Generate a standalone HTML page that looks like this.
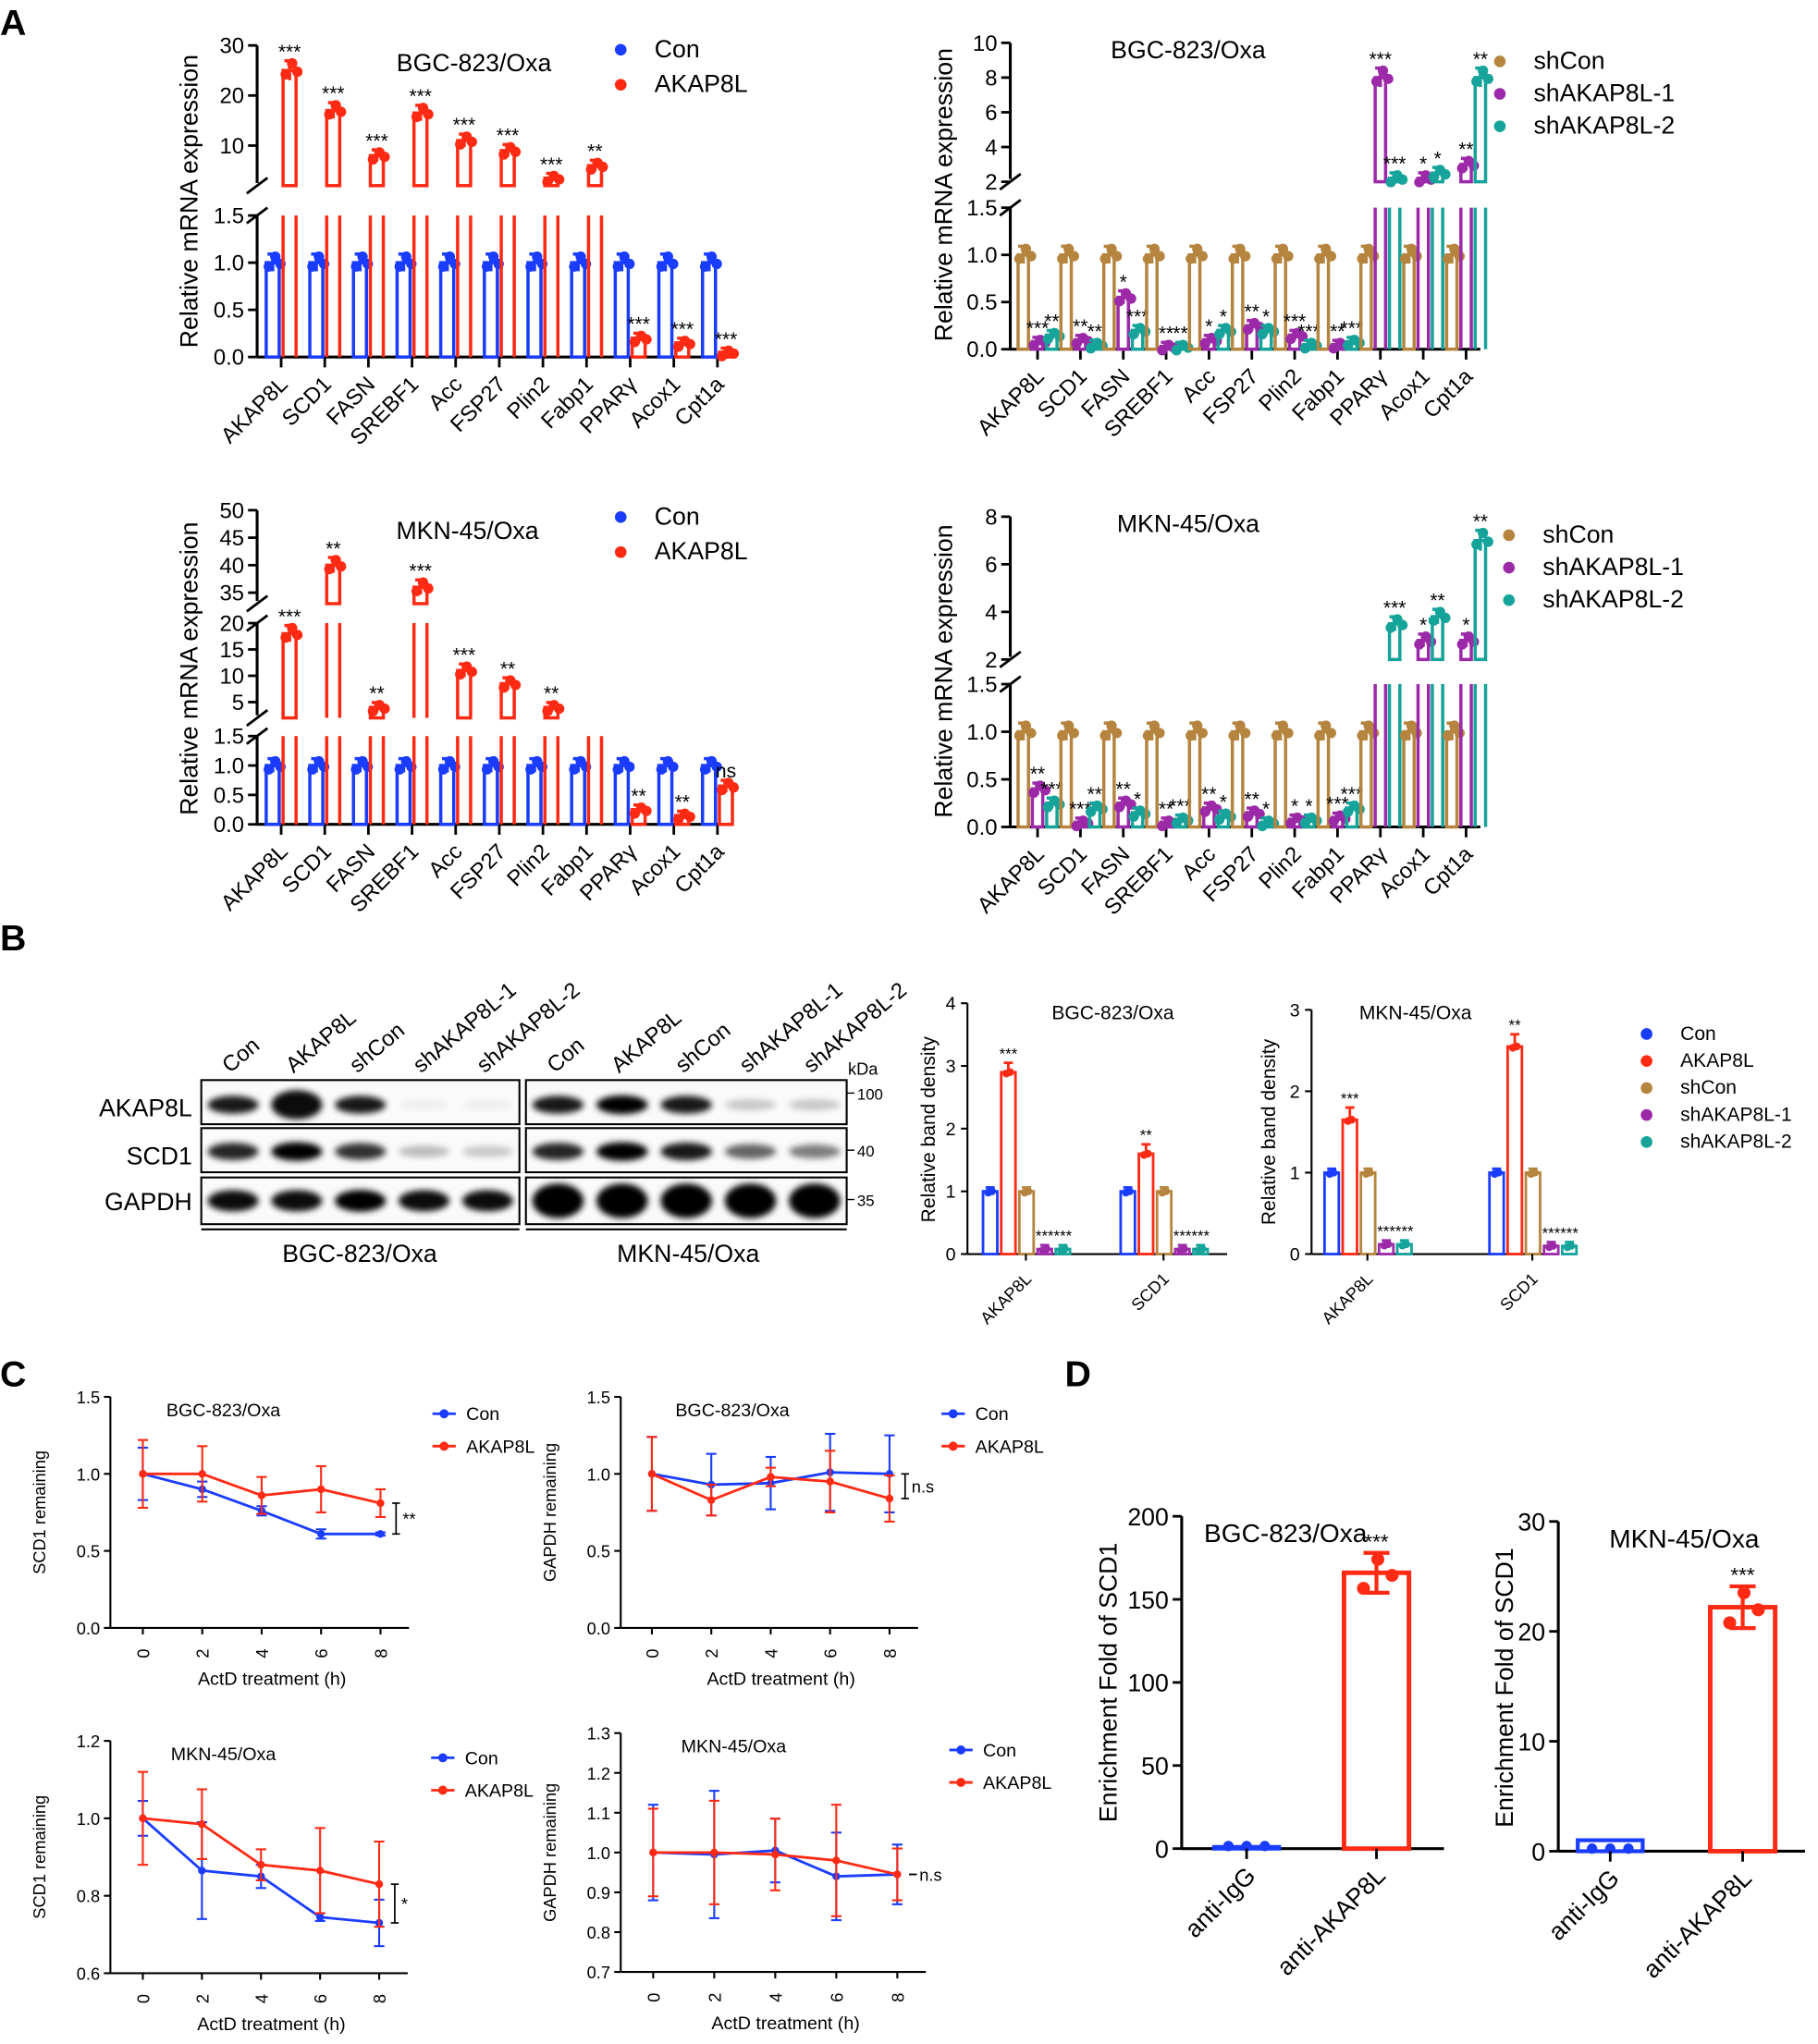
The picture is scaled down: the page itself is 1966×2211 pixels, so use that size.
<!DOCTYPE html>
<html><head><meta charset="utf-8"><style>
html,body{margin:0;padding:0;background:#fff;}
svg{display:block;font-family:"Liberation Sans",Arial,sans-serif;}
</style></head><body>
<svg id="S" width="1966" height="2211" viewBox="0 0 1400 1574.5" preserveAspectRatio="none" xmlns="http://www.w3.org/2000/svg">
<defs><filter id="bl" x="-20%" y="-50%" width="140%" height="200%"><feGaussianBlur stdDeviation="2.5"/></filter></defs>
</svg>
<script>
var s='';
var BL='#1a3cff',RD='#ff2a14',BR='#b5853f',PU='#9c2aa8',TE='#15a39a';
function T(x,y,t,o){o=o||{};s+='<text x="'+x+'" y="'+y+'" font-size="'+(o.fs||16)+'" text-anchor="'+(o.a||'middle')+'"'+(o.rot!=null?' transform="rotate('+o.rot+' '+x+' '+y+')"':'')+' fill="'+(o.c||'#000')+'"'+(o.fw?' font-weight="bold"':'')+(o.it?' font-style="italic"':'')+'>'+t+'</text>';}
function L(x1,y1,x2,y2,c,w){s+='<line x1="'+x1+'" y1="'+y1+'" x2="'+x2+'" y2="'+y2+'" stroke="'+(c||'#000')+'" stroke-width="'+(w||2)+'"/>';}
function C(x,y,r,c){s+='<circle cx="'+x+'" cy="'+y+'" r="'+r+'" fill="'+c+'"/>';}
function R(x,y,w,h,c,sw,f){s+='<rect x="'+x+'" y="'+y+'" width="'+w+'" height="'+h+'" fill="'+(f||'none')+'" stroke="'+c+'" stroke-width="'+(sw||2)+'"/>';}
var genes=['AKAP8L','SCD1','FASN','SREBF1','Acc','FSP27','Plin2','Fabp1','PPARγ','Acox1','Cpt1a'];
function yOf(sg,v){return sg.ylo+(v-sg.lo)/(sg.hi-sg.lo)*(sg.yhi-sg.ylo);}
function broken(o){
  var x0=o.x0;
  o.segs.forEach(function(sg,k){
    L(x0,sg.ylo+(k==0?0:-2),x0,sg.yhi,'#000',2.2);
    sg.ticks.forEach(function(t){var y=yOf(sg,t[0]);L(x0-7,y,x0,y,'#000',2);T(x0-10,y+6,t[1],{fs:17,a:'end'});});
    if(k>0){L(x0-8,sg.ylo+6,x0+8,sg.ylo-6,'#000',2);}
    if(k<o.segs.length-1){L(x0-8,sg.yhi+6,x0+8,sg.yhi-6,'#000',2);}
  });
  var b=o.segs[0];L(x0,b.ylo,o.x1,b.ylo,'#000',2.2);
  genes.forEach(function(g,i){
    var cx=o.gx0+i*o.gs;
    var gc=cx+(o.series.length-1)*o.bs/2;
    L(gc,b.ylo,gc,b.ylo+8,'#000',2);
    T(gc+6,b.ylo+22,g,{fs:17,a:'end',rot:-45});
    o.series.forEach(function(se,j){
      var v=se.v[i],bx=cx+j*o.bs-o.bw/2;
      var topSeg=null;
      o.segs.forEach(function(sg){
        if(v>sg.lo){var vt=Math.min(v,sg.hi);var yt=yOf(sg,vt);
          if(v>sg.hi){L(bx,sg.ylo,bx,sg.yhi,se.c,2.5);L(bx+o.bw,sg.ylo,bx+o.bw,sg.yhi,se.c,2.5);}
          else{R(bx,yt,o.bw,sg.ylo-yt,se.c,2.5);topSeg=sg;}
        }
      });
      if(topSeg){var yt=yOf(topSeg,v);var e=(o.err||0.1)*(topSeg.ylo-topSeg.yhi)*(v/(topSeg.hi))*0.5+3;
        L(bx+o.bw/2,yt-e,bx+o.bw/2,yt+e,se.c,2.5);L(bx+o.bw/2-4,yt-e,bx+o.bw/2+4,yt-e,se.c,2.5);
        C(bx+o.bw/2-3,yt+3,4,se.c);C(bx+o.bw/2+2,yt-e+2,4,se.c);C(bx+o.bw/2+6,yt+1,4,se.c);
        if(se.st&&se.st[i])T(bx+o.bw/2,yt-e-2,se.st[i],{fs:15});}
    });
  });
}
var segA1=[{lo:0,hi:1.5,ylo:275,yhi:166,ticks:[[0,'0.0'],[0.5,'0.5'],[1,'1.0'],[1.5,'1.5']]},{lo:2,hi:30,ylo:143,yhi:35,ticks:[[10,'10'],[20,'20'],[30,'30']]}];
broken({x0:198,x1:562,segs:segA1,gx0:210,gs:33.6,bs:13,bw:10,series:[
 {c:BL,v:[1,1,1,1,1,1,1,1,1,1,1]},
 {c:RD,v:[25,17,8,16.5,11,9,3.5,6,0.2,0.15,0.05],st:['***','***','***','***','***','***','***','**','***','***','***']}]});
var segA2=[{lo:0,hi:1.5,ylo:269,yhi:160,ticks:[[0,'0.0'],[0.5,'0.5'],[1,'1.0'],[1.5,'1.5']]},{lo:2,hi:10,ylo:140,yhi:33,ticks:[[2,'2'],[4,'4'],[6,'6'],[8,'8'],[10,'10']]}];
broken({x0:778,x1:1140,segs:segA2,gx0:788,gs:33,bs:11,bw:8,series:[
 {c:BR,v:[1,1,1,1,1,1,1,1,1,1,1]},
 {c:PU,v:[0.08,0.1,0.55,0.03,0.1,0.25,0.15,0.05,8,2.2,3],st:['***','**','*','**','*','**','***','**','***','*','**']},
 {c:TE,v:[0.15,0.05,0.2,0.03,0.2,0.2,0.05,0.08,2.2,2.5,8],st:['**','**','***','**','*','*','***','***','***','*','**']}]});
var segA3=[{lo:0,hi:1.5,ylo:635,yhi:567,ticks:[[0,'0.0'],[0.5,'0.5'],[1,'1.0'],[1.5,'1.5']]},{lo:2,hi:20,ylo:553,yhi:480,ticks:[[5,'5'],[10,'10'],[15,'15'],[20,'20']]},{lo:33,hi:50,ylo:465,yhi:393,ticks:[[35,'35'],[40,'40'],[45,'45'],[50,'50']]}];
broken({x0:198,x1:562,segs:segA3,gx0:210,gs:33.6,bs:13,bw:10,series:[
 {c:BL,v:[1,1,1,1,1,1,1,1,1,1,1]},
 {c:RD,v:[18,40,4,36,11,8.5,4,1.62,0.25,0.15,0.65],st:['***','**','**','***','***','**','**','**','**','**','ns']}]});
var segA4=[{lo:0,hi:1.5,ylo:637,yhi:527,ticks:[[0,'0.0'],[0.5,'0.5'],[1,'1.0'],[1.5,'1.5']]},{lo:2,hi:8,ylo:508,yhi:398,ticks:[[2,'2'],[4,'4'],[6,'6'],[8,'8']]}];
broken({x0:778,x1:1140,segs:segA4,gx0:788,gs:33,bs:11,bw:8,series:[
 {c:BR,v:[1,1,1,1,1,1,1,1,1,1,1]},
 {c:PU,v:[0.4,0.05,0.25,0.05,0.2,0.15,0.08,0.1,1.7,2.8,2.8],st:['**','***','**','**','**','**','*','***','*','*','*']},
 {c:TE,v:[0.25,0.2,0.15,0.08,0.12,0.05,0.08,0.2,3.5,3.8,7],st:['***','**','*','***','*','*','*','***','***','**','**']}]});
T(365,55,'BGC-823/Oxa',{fs:19});T(915,45,'BGC-823/Oxa',{fs:19});T(360,415,'MKN-45/Oxa',{fs:19});T(915,410,'MKN-45/Oxa',{fs:19});
function leg(x,y,items,fs,dy){items.forEach(function(it,i){C(x,y+i*dy-fs*0.3,4.5,it[1]);T(x+26,y+i*dy,it[0],{fs:fs,a:'start'});});}
leg(478,44,[['Con',BL],['AKAP8L',RD]],19,27);leg(478,404,[['Con',BL],['AKAP8L',RD]],19,27);
leg(1155,53,[['shCon',BR],['shAKAP8L-1',PU],['shAKAP8L-2',TE]],19,25);leg(1162,418,[['shCon',BR],['shAKAP8L-1',PU],['shAKAP8L-2',TE]],19,25);
T(152,155,'Relative mRNA expression',{fs:19,rot:-90});T(733,150,'Relative mRNA expression',{fs:19,rot:-90});
T(152,515,'Relative mRNA expression',{fs:19,rot:-90});T(733,517,'Relative mRNA expression',{fs:19,rot:-90});
T(0,27,'A',{fs:28,a:'start',fw:1});T(0,732,'B',{fs:28,a:'start',fw:1});T(0,1068,'C',{fs:28,a:'start',fw:1});T(820,1068,'D',{fs:28,a:'start',fw:1});
var lanes=['Con','AKAP8L','shCon','shAKAP8L-1','shAKAP8L-2'];
[[155,400],[405,652]].forEach(function(p,k){
  var w=(p[1]-p[0])/5;
  lanes.forEach(function(l,i){T(p[0]+w*i+w*0.45,827,l,{fs:17,a:'start',rot:-40});});
  R(p[0],832,p[1]-p[0],34,'#000',1.5,'#fafafa');R(p[0],869,p[1]-p[0],34,'#000',1.5,'#fafafa');R(p[0],907,p[1]-p[0],36,'#000',1.5,'#fafafa');
  var I=k==0?[[0.9,0.95,0.9,0.05,0.05],[0.85,1,0.8,0.25,0.2],[0.95,0.95,1,0.95,0.95]]:[[0.9,1,0.9,0.2,0.2],[0.85,1,0.9,0.6,0.5],[1,1,1,1,1]];
  var ys=[851,887,925],hs=[6,6,7];
  I.forEach(function(r,ri){r.forEach(function(a,i){var cx=p[0]+w*i+w/2;var hh=hs[ri]*(0.6+a*(k==1&&ri==2?1.3:0.6))*(ri==0&&i==1&&k==0?1.6:1);
    s+='<ellipse cx="'+cx+'" cy="'+ys[ri]+'" rx="'+(w*0.4)+'" ry="'+hh+'" fill="#000" opacity="'+a+'" filter="url(#bl)"/>';});});
  L(p[0],947,p[1],947,'#000',1.5);
});
T(653,828,'kDa',{fs:13,a:'start'});
[[842,'100'],[886,'40'],[924,'35']].forEach(function(t){L(652,t[0],658,t[0],'#000',1);T(660,t[0]+5,t[1],{fs:12,a:'start'});});
T(148,860,'AKAP8L',{fs:19,a:'end'});T(148,897,'SCD1',{fs:19,a:'end'});T(148,932,'GAPDH',{fs:19,a:'end'});
T(277,972,'BGC-823/Oxa',{fs:19});T(530,972,'MKN-45/Oxa',{fs:19});
function bbar(x0,x1,y0,ymax,ppu,ticks,gx,vals,st,title,tx){
  L(x0,y0,x0,y0-ymax*ppu,'#000',1.5);L(x0,y0,x1,y0,'#000',1.5);
  ticks.forEach(function(t){var y=y0-t*ppu;L(x0-5,y,x0,y,'#000',1.5);T(x0-9,y+5,t,{fs:14,a:'end'});});
  var cols=[BL,RD,BR,PU,TE];
  gx.forEach(function(g,gi){
    cols.forEach(function(c,j){var bx=g+j*14,v=vals[gi][j],yt=y0-v*ppu;R(bx,yt,11,v*ppu,c,2);
      var e=v>1.1?0.15*ppu:3;L(bx+5.5,yt-e,bx+5.5,yt,c,2);L(bx+2,yt-e,bx+9,yt-e,c,2);C(bx+4,yt+1,3,c);C(bx+7,yt,3,c);
      if(st[gi][j])T(bx+5.5,yt-e-3,st[gi][j],{fs:12});});
    T(g+38,y0+20,gi==0?'AKAP8L':'SCD1',{fs:13,a:'end',rot:-45});L(g+33,y0,g+33,y0+5,'#000',1.5);
  });
  T(tx,785,title,{fs:15});
}
bbar(745,945,966,4,48.3,[0,1,2,3,4],[757,863],[[1,2.9,1,0.08,0.08],[1,1.6,1,0.08,0.08]],[['','***','','***','***'],['','**','','***','***']],'BGC-823/Oxa',857);
T(720,870,'Relative  band density',{fs:15,rot:-90});
bbar(1010,1200,966,3,62.7,[0,1,2,3],[1020,1147],[[1,1.65,1,0.12,0.12],[1,2.55,1,0.1,0.1]],[['','***','','***','***'],['','**','','***','***']],'MKN-45/Oxa',1090);
T(982,872,'Relative  band density',{fs:15,rot:-90});
leg(1268,801,[['Con',BL],['AKAP8L',RD],['shCon',BR],['shAKAP8L-1',PU],['shAKAP8L-2',TE]],15,20.8);
function lc(o){
  var x0=o.x0,y0=o.y0,ppu=(o.y0-o.ytop)/(o.hi-o.lo),xs=function(t){return o.xa+t/8*(o.xb-o.xa);},ys=function(v){return y0-(v-o.lo)*ppu;};
  L(x0,y0,x0,o.ytop,'#000',1.5);L(x0,y0,o.xb+22,y0,'#000',1.5);
  o.ticks.forEach(function(t){var y=ys(t);L(x0-5,y,x0,y,'#000',1.5);T(x0-8,y+5,t.toFixed(1),{fs:13,a:'end'});});
  [0,2,4,6,8].forEach(function(t){var x=xs(t);L(x,y0,x,y0+5,'#000',1.5);T(x+5,y0+16,t,{fs:13,rot:-90,a:'end'});});
  [[BL,o.c,o.ec],[RD,o.a,o.ea]].forEach(function(sr){var pts=sr[1].map(function(v,i){return xs(i*2)+','+ys(v);}).join(' ');
    sr[1].forEach(function(v,i){var x=xs(i*2),e=sr[2][i]*ppu;L(x,ys(v)-e,x,ys(v)+e,sr[0],1.5);L(x-4,ys(v)-e,x+4,ys(v)-e,sr[0],1.5);L(x-4,ys(v)+e,x+4,ys(v)+e,sr[0],1.5);});
    s+='<polyline points="'+pts+'" fill="none" stroke="'+sr[0]+'" stroke-width="2"/>';
    sr[1].forEach(function(v,i){C(xs(i*2),ys(v),3,sr[0]);});});
  T((o.xa+o.xb)/2+8,y0+44,'ActD treatment (h)',{fs:14});T(x0-50,(y0+o.ytop)/2,o.yl,{fs:13,rot:-90});
  T(o.xa+62,o.ytop+15,o.t,{fs:14});
  L(o.xb+40,o.ytop+13,o.xb+58,o.ytop+13,BL,2);C(o.xb+49,o.ytop+13,3.5,BL);T(o.xb+66,o.ytop+18,'Con',{fs:14,a:'start'});
  L(o.xb+40,o.ytop+38,o.xb+58,o.ytop+38,RD,2);C(o.xb+49,o.ytop+38,3.5,RD);T(o.xb+66,o.ytop+43,'AKAP8L',{fs:14,a:'start'});
  var y1=ys(o.c[4]),y2=ys(o.a[4]),bx=o.xb+12;L(bx,y1,bx,y2,'#000',1.2);L(bx-3,y1,bx+3,y1,'#000',1.2);L(bx-3,y2,bx+3,y2,'#000',1.2);
  T(bx+5,(y1+y2)/2+5,o.sig,{fs:13,a:'start'});
}
lc({x0:85,y0:1254,ytop:1076,lo:0,hi:1.5,ticks:[0,0.5,1,1.5],xa:110,xb:293,c:[1,0.9,0.76,0.61,0.61],a:[1,1,0.86,0.9,0.81],ec:[0.17,0.05,0.03,0.03,0.01],ea:[0.22,0.18,0.12,0.15,0.09],yl:'SCD1 remaining',t:'BGC-823/Oxa',sig:'**'});
lc({x0:478,y0:1254,ytop:1076,lo:0,hi:1.5,ticks:[0,0.5,1,1.5],xa:502,xb:685,c:[1,0.93,0.94,1.01,1.0],a:[1,0.83,0.98,0.95,0.84],ec:[0.24,0.2,0.17,0.25,0.25],ea:[0.24,0.1,0.06,0.2,0.15],yl:'GAPDH remaining',t:'BGC-823/Oxa',sig:'n.s'});
lc({x0:85,y0:1520,ytop:1341,lo:0.6,hi:1.2,ticks:[0.6,0.8,1.0,1.2],xa:110,xb:292,c:[1,0.865,0.85,0.745,0.73],a:[1,0.985,0.88,0.865,0.83],ec:[0.045,0.125,0.03,0.01,0.06],ea:[0.12,0.09,0.04,0.11,0.11],yl:'SCD1 remaining',t:'MKN-45/Oxa',sig:'*'});
lc({x0:478,y0:1519,ytop:1335,lo:0.7,hi:1.3,ticks:[0.7,0.8,0.9,1.0,1.1,1.2,1.3],xa:503,xb:691,c:[1,0.995,1.005,0.94,0.945],a:[1,1.0,0.995,0.98,0.945],ec:[0.12,0.16,0.08,0.11,0.075],ea:[0.11,0.13,0.09,0.14,0.065],yl:'GAPDH remaining',t:'MKN-45/Oxa',sig:'n.s'});
function dbar(x0,x1,y0,ytop,max,ticks,b1,b2,v2,e2,t,tx,ppux){
  var ppu=(y0-ytop)/max;L(x0,y0,x0,ytop,'#000',2.2);L(x0,y0,x1,y0,'#000',2.2);
  ticks.forEach(function(tk){var y=y0-tk*ppu;L(x0-7,y,x0,y,'#000',2);T(x0-10,y+7,tk,{fs:19,a:'end'});});
  R(b1-25,y0-1*ppu*ppux,50,1*ppu*ppux,BL,3);C(b1-14,y0-2,4,BL);C(b1,y0-2,4,BL);C(b1+14,y0-2,4,BL);
  var yt=y0-v2*ppu,e=e2*ppu;R(b2-25,yt,50,v2*ppu,RD,3.5);L(b2,yt-e,b2,yt+e,RD,3);L(b2-10,yt-e,b2+10,yt-e,RD,3);L(b2-10,yt+e,b2+10,yt+e,RD,3);
  C(b2-10,yt+12,5,RD);C(b2+1,yt-e+5,5,RD);C(b2+12,yt+2,5,RD);T(b2,yt-e-3,'***',{fs:16});
  L(b1,y0,b1,y0+8,'#000',2);L(b2,y0,b2,y0+8,'#000',2);
  T(b1+8,y0+22,'anti-IgG',{fs:19,a:'end',rot:-45});T(b2+8,y0+22,'anti-AKAP8L',{fs:19,a:'end',rot:-45});
  T(tx,ytop+20,t,{fs:20});
}
dbar(910,1112,1424,1168,200,[0,50,100,150,200],960,1060,166,12,'BGC-823/Oxa',990,1);
T(860,1296,'Enrichment Fold of SCD1',{fs:19,rot:-90});
dbar(1200,1390,1426,1172,30,[0,10,20,30],1240,1342,22.2,1.9,'MKN-45/Oxa',1297,1);
T(1165,1300,'Enrichment Fold of SCD1',{fs:19,rot:-90});
document.getElementById('S').insertAdjacentHTML('beforeend',s);
</script>
</body></html>
